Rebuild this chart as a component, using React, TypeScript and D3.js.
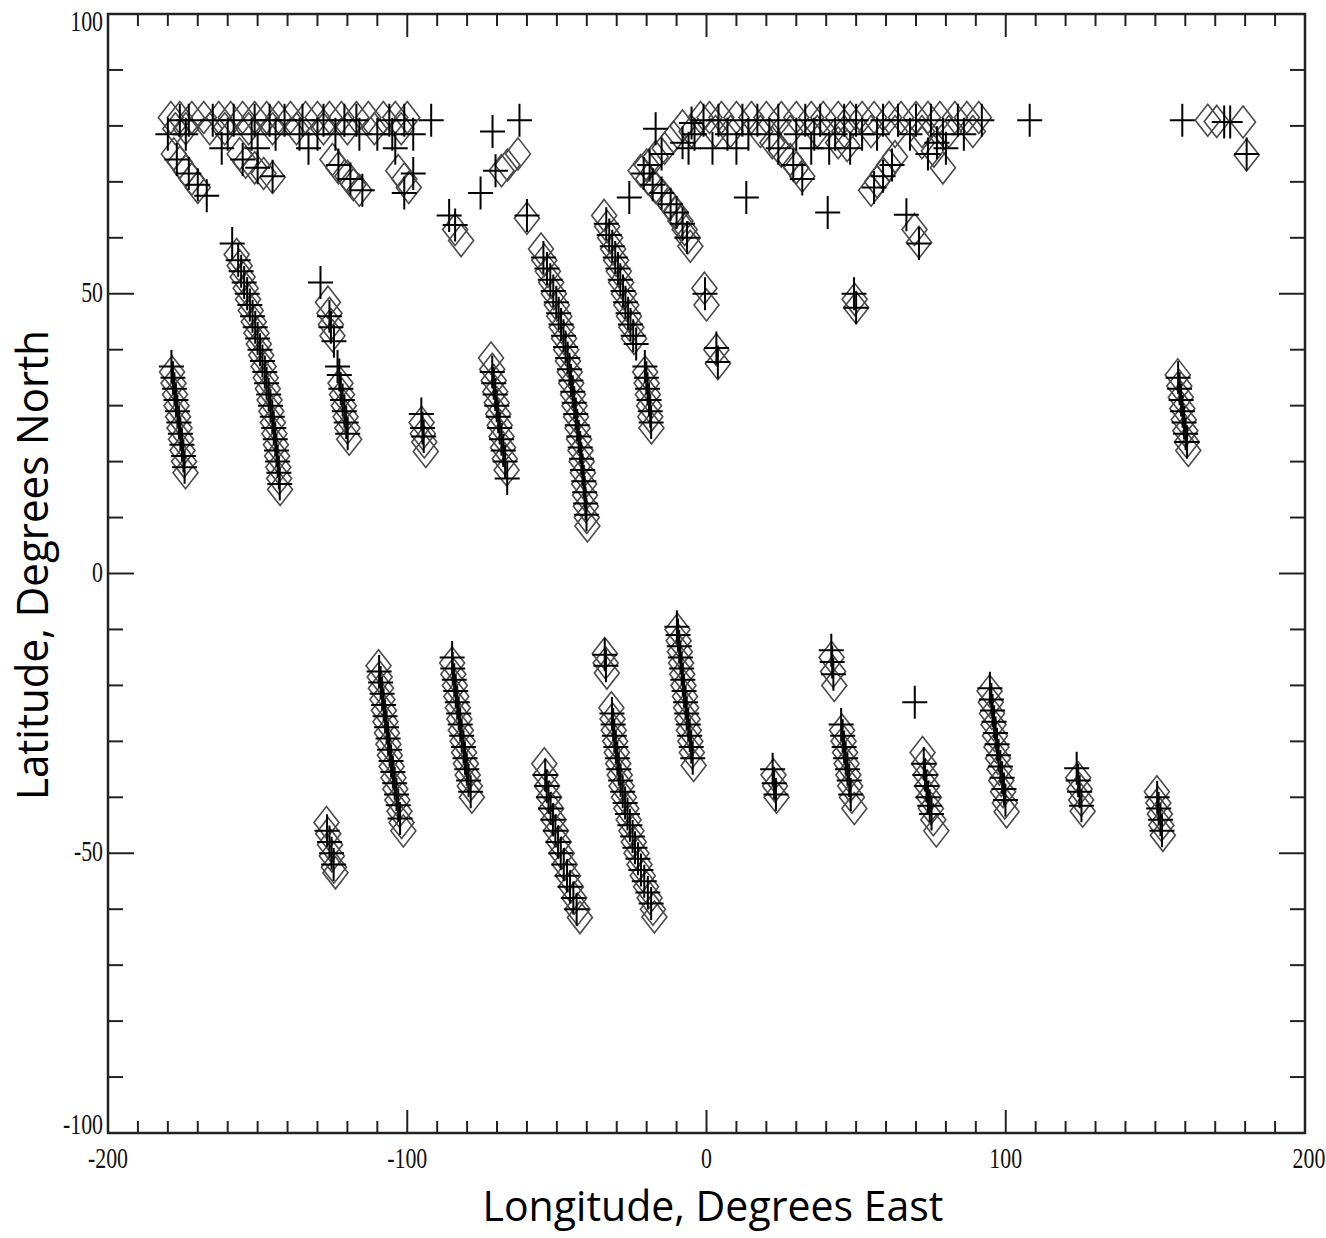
import React from "react";
import * as d3 from "d3";

type P = [number, number];

// ---- axis tick labels ----
const xTickLabels = [-200, -100, 0, 100, 200];
const yTickLabels = [-100, -50, 0, 50, 100];
const xTitle = "Longitude, Degrees East";
const yTitle = "Latitude, Degrees North";

// ---- diamonds (model track points) ----
const diamondsTopBandWest: P[] = [
  [-179, 81.5], [-176, 81.5], [-172, 81.5], [-168, 81.5], [-163, 81.5], [-159, 81.5], [-155, 81.5],
  [-151, 81.5], [-147, 81.5], [-143, 81.5], [-139, 81.5], [-134, 81.5], [-130, 81.5], [-126, 81.5],
  [-122, 81.5], [-117, 81.5], [-113, 81.5], [-108, 81.5], [-104, 81.5], [-100, 81.5],
  [-177.5, 79.5], [-174, 79.5], [-166, 79.5], [-161, 79.5], [-153, 79.5], [-145, 79.5], [-137, 79.5],
  [-128, 79.5], [-120, 79.5], [-111, 79.5], [-102, 79.5],
  [-178, 75], [-176, 73.5], [-174, 72], [-172, 70.5], [-170, 69],
  [-156, 75], [-154, 73.5], [-151, 72.5], [-148, 71.5], [-145, 70.8],
  [-125, 74], [-123, 72.5], [-120, 71], [-118, 69.5], [-116, 68.5],
  [-103, 72], [-101, 70.5], [-99.5, 69],
];
const diamondsTopBandEast: P[] = [
  [-2, 81.5], [1, 81.5], [5, 81.5], [10, 81.5], [15, 81.5], [20, 81.5], [25, 81.5], [30, 81.5],
  [35, 81.5], [39, 81.5], [44, 81.5], [48, 81.5], [52, 81.5], [56, 81.5], [61, 81.5], [65, 81.5],
  [70, 81.5], [74, 81.5], [78, 81.5], [83, 81.5], [87, 81.5], [91, 81.5],
  [-5, 79], [3, 79], [8, 79], [18, 79], [28, 79], [37, 79], [46, 79], [55, 79], [63, 79], [72, 79],
  [81, 79], [89, 79],
  [22, 77], [25, 75.5], [28, 74], [30, 72.5], [32, 71], [44, 77], [47, 76.5],
  [55, 68.5], [57, 70], [59, 71.5], [61, 73], [63, 74.5],
  [72, 77], [76, 75.5], [79, 72.5],
  [-20, 73], [-17, 74.5], [-14, 76], [-11, 78], [-8, 80],
  [-22, 72], [-19.5, 70.5], [-17, 69], [-14.5, 67.5], [-12.3, 66], [-10.3, 64.5], [-8.7, 63],
  [-7.3, 61.5], [-6.2, 60], [-5.4, 58.5],
  [167.5, 81], [170.5, 80.8], [179.3, 80.7], [180.5, 74.8],
];
const diamondsNorthTracks: P[] = [
  [-178.6, 36], [-178.1, 34], [-177.6, 32], [-177.1, 30], [-176.6, 28], [-176.1, 26], [-175.6, 24],
  [-175.1, 22], [-174.6, 20], [-174.1, 18],
  [-157, 57], [-156, 55], [-155, 53], [-154, 51], [-153.2, 49], [-152.3, 47], [-151.3, 45], [-150.4, 43],
  [-149.6, 41], [-148.8, 39], [-148, 37], [-147.3, 35], [-146.6, 33], [-146, 31], [-145.4, 29],
  [-144.9, 27], [-144.4, 25], [-143.9, 23], [-143.5, 21], [-143.1, 19], [-142.8, 17], [-142.5, 15],
  [-126.5, 48.5], [-126, 46.5], [-125.5, 44.5], [-125, 42.5],
  [-122.3, 34], [-121.8, 32], [-121.2, 30], [-120.6, 28], [-120, 26], [-119.4, 24],
  [-95.2, 27], [-94.8, 25], [-94.3, 23.5], [-93.8, 21.8],
  [-84, 61.5], [-82, 59.5], [-60, 63.5], [-63, 75], [-66.5, 73], [-68.5, 72],
  [-72, 38.5], [-71.6, 36.5], [-71.1, 34.5], [-70.6, 32.5], [-70.1, 30.5], [-69.6, 28.5], [-69.1, 26.5],
  [-68.5, 24.5], [-68, 22.5], [-67.4, 20.5], [-66.8, 18.5],
  [-55.3, 58], [-54.2, 56], [-53, 54], [-51.9, 52], [-51, 50], [-50, 48], [-49.2, 46], [-48.4, 44],
  [-47.6, 42], [-46.9, 40], [-46.3, 38], [-45.7, 36], [-45.2, 34], [-44.6, 32], [-44.1, 30], [-43.6, 28],
  [-43.1, 26], [-42.6, 24], [-42.1, 22], [-41.7, 20], [-41.3, 18], [-40.9, 16], [-40.6, 14], [-40.3, 12],
  [-40, 10], [-39.8, 8.5],
  [-34.2, 64], [-33.2, 62], [-32.2, 60], [-31.2, 58], [-30.2, 56], [-29.3, 54], [-28.5, 52], [-27.6, 50],
  [-26.8, 48], [-25.9, 46], [-25.1, 44], [-24.2, 42],
  [-20.5, 36], [-20, 34], [-19.6, 32], [-19.2, 30], [-18.8, 28], [-18.4, 26],
  [-0.7, 51], [0, 48], [3.3, 40], [3.8, 37.5], [49.5, 49], [50, 47.5], [69.5, 61.5], [71, 59.2],
  [157.5, 35.5], [158, 33.5], [158.5, 31.5], [159, 29.5], [159.5, 27.5], [160, 25.5], [160.5, 23.5], [161, 22],
];
const diamondsSouthTracks: P[] = [
  [-127, -44.5], [-126.4, -46.5], [-125.8, -48.5], [-125.2, -50.5], [-124.5, -52.5], [-124, -53.5],
  [-109.6, -16.5], [-109.2, -18.5], [-108.8, -20.5], [-108.3, -22.5], [-107.8, -24.5], [-107.3, -26.5],
  [-106.8, -28.5], [-106.3, -30.5], [-105.8, -32.5], [-105.2, -34.5], [-104.6, -36.5], [-104, -38.5],
  [-103.3, -40.5], [-102.6, -42.5], [-101.9, -44.5], [-101.3, -46],
  [-85, -16], [-84.6, -18], [-84.1, -20], [-83.6, -22], [-83.1, -24], [-82.6, -26], [-82.1, -28],
  [-81.5, -30], [-81, -32], [-80.4, -34], [-79.8, -36], [-79.1, -38], [-78.4, -40],
  [-54.2, -34], [-53.8, -36], [-53.3, -38], [-52.6, -40], [-51.9, -42], [-51.1, -44], [-50.3, -46],
  [-49.4, -48], [-48.4, -50], [-47.4, -52], [-46.3, -54], [-45.3, -56], [-44.2, -58], [-43.1, -60], [-42.3, -61.5],
  [-31.8, -24], [-31.4, -26], [-31, -28], [-30.5, -30], [-30, -32], [-29.5, -34], [-29, -36], [-28.4, -38],
  [-27.6, -40], [-26.8, -42], [-26, -44], [-25.1, -46], [-24.3, -48], [-23.4, -50], [-22.4, -52],
  [-21.3, -54], [-20.2, -56], [-19, -58], [-17.9, -60], [-17.4, -61.4],
  [-34, -14.3], [-33.7, -16], [-33.3, -17.8],
  [-9.7, -10], [-9.3, -12], [-8.9, -14], [-8.5, -16], [-8.1, -18], [-7.7, -20], [-7.2, -22], [-6.8, -24],
  [-6.3, -26], [-5.9, -28], [-5.4, -30], [-4.9, -32], [-4.3, -34.3],
  [22.4, -36], [22.9, -38], [23.4, -40],
  [41.8, -15], [42.3, -17.5], [42.7, -20],
  [45.3, -28], [45.8, -30], [46.3, -32], [46.8, -34], [47.4, -36], [48, -38], [48.6, -40], [49.4, -42],
  [72.2, -32], [72.7, -34], [73.2, -36], [73.7, -38], [74.3, -40], [75, -42], [75.8, -44], [76.8, -46],
  [94.6, -21], [95, -23], [95.4, -25], [95.9, -27], [96.4, -29], [96.9, -31], [97.4, -33], [97.9, -35],
  [98.5, -37], [99.1, -39], [99.7, -41], [100.3, -42.6],
  [124.2, -36.5], [124.7, -38.5], [125.2, -40.5], [125.7, -42.5],
  [150.5, -39], [151, -41], [151.5, -43], [152, -45], [152.5, -46.8],
];

// ---- pluses (observed track points) ----
const plusesTopBand: P[] = [
  [-176, 81], [-173, 81], [-165, 81], [-158, 81], [-151, 81], [-146, 81], [-141, 81], [-135, 81],
  [-128, 81], [-121, 81], [-117, 81], [-106, 81], [-101, 81], [-92, 81],
  [-180, 78.5], [-174, 78.5], [-160, 78.5], [-152, 78.5], [-144, 78.5], [-136, 78.5], [-130, 78.5],
  [-124, 78.5], [-116, 78.5], [-110, 78.5], [-105, 78.5], [-98, 78.5],
  [-162, 76], [-150, 76], [-133, 76], [-104, 76],
  [-177, 74], [-173, 71.5], [-170, 69.5], [-167, 67.5],
  [-155, 74], [-150, 72.5], [-145, 71],
  [-123, 73], [-119, 70.5], [-115, 68.5],
  [-101, 68], [-98, 71.5],
  [-1, 81], [4, 81], [12, 81], [17, 81], [24, 81], [33, 81], [38, 81], [46, 81], [50, 81], [59, 81],
  [64, 81], [70, 81], [75, 81], [84, 81], [92, 81],
  [-4, 78.5], [7, 78.5], [14, 78.5], [21, 78.5], [30, 78.5], [36, 78.5], [43, 78.5], [52, 78.5],
  [57, 78.5], [68, 78.5], [79, 78.5], [86, 78.5],
  [-6, 76], [2, 76], [10, 76], [35, 76], [41, 76], [48, 76],
  [24, 76], [29, 73], [32, 70.5], [56, 69], [59, 71], [62, 73], [74, 75], [77, 77], [80, 76],
  [-19, 73], [-15, 75], [-8, 77], [-5, 80.5], [-17, 79.5],
  [-21, 71.5], [-18, 69.5], [-15, 68], [-12, 66], [-10, 64.5], [-8, 62.5], [-6.5, 60],
  [108, 81], [159, 81], [173, 80.7], [175, 80.7], [180.5, 75],
];
const plusesNorthTracks: P[] = [
  [-178.8, 37], [-178.3, 35], [-177.8, 33], [-177.3, 31], [-176.8, 29], [-176.3, 27], [-175.8, 25],
  [-175.3, 23], [-174.8, 21], [-174.4, 19],
  [-158.5, 59], [-156.5, 56], [-155.5, 54], [-154.5, 52], [-153.5, 50], [-152.6, 48], [-151.7, 46],
  [-150.8, 44], [-150, 42], [-149.2, 40], [-148.4, 38], [-147.6, 36], [-147, 34], [-146.3, 32],
  [-145.7, 30], [-145.1, 28], [-144.6, 26], [-144.1, 24], [-143.7, 22], [-143.3, 20], [-142.9, 18], [-142.6, 16],
  [-129, 52], [-126, 46], [-125.5, 44], [-124.5, 41.5],
  [-123.3, 37], [-122.7, 35.5], [-122.2, 33], [-121.6, 31], [-121, 29], [-120.4, 27], [-119.9, 25],
  [-95.3, 28.5], [-94.9, 26], [-94.5, 24.5],
  [-86, 64], [-84, 62.3], [-60, 64], [-62.5, 81], [-71.5, 79], [-70.5, 72], [-75.5, 68],
  [-71.6, 36], [-71.1, 34], [-70.6, 32], [-70.1, 30], [-69.6, 28], [-69.1, 26], [-68.5, 24],
  [-67.9, 22], [-67.3, 20], [-66.6, 17],
  [-54.5, 56.5], [-53.3, 54.5], [-52.2, 52.5], [-51.2, 50.5], [-50.2, 48.5], [-49.4, 46.5], [-48.6, 44.5],
  [-47.8, 42.5], [-47.1, 40.5], [-46.4, 38.5], [-45.8, 36.5], [-45.3, 34.5], [-44.7, 32.5], [-44.2, 30.5],
  [-43.7, 28.5], [-43.2, 26.5], [-42.7, 24.5], [-42.2, 22.5], [-41.8, 20.5], [-41.4, 18.5], [-41, 16.5],
  [-40.7, 14.5], [-40.4, 12.5], [-40.1, 10.5],
  [-33.5, 62.5], [-32.5, 60.5], [-31.5, 58.5], [-30.5, 56.5], [-29.6, 54.5], [-28.8, 52.5], [-27.9, 50.5],
  [-27.1, 48.5], [-26.2, 46.5], [-25.4, 44.5], [-24.5, 42.5], [-23.5, 41],
  [-20.6, 37], [-20.1, 35], [-19.7, 33], [-19.2, 31], [-18.8, 29], [-18.5, 27],
  [-25.8, 67.2], [13.3, 67.2], [40.5, 64.5], [66.8, 64.1], [71, 59],
  [-0.5, 50], [3.3, 40.3], [3.8, 37.8], [49.3, 50], [50, 47.5],
  [157.6, 35], [158.1, 33], [158.6, 31], [159.1, 29], [159.6, 27], [160.1, 25], [160.6, 23.5],
];
const plusesSouthTracks: P[] = [
  [-126.8, -46], [-126, -48], [-125.3, -50], [-124.6, -52],
  [-109.4, -17.5], [-108.9, -19.5], [-108.4, -21.5], [-107.9, -23.5], [-107.4, -25.5], [-106.9, -27.5],
  [-106.4, -29.5], [-105.9, -31.5], [-105.4, -33.5], [-104.8, -35.5], [-104.2, -37.5], [-103.6, -39.5],
  [-103, -41.4], [-102.4, -43.8],
  [-85, -15], [-84.8, -17], [-84.3, -19], [-83.8, -21], [-83.3, -23], [-82.8, -25], [-82.3, -27],
  [-81.8, -29], [-81.2, -31], [-80.7, -33], [-80.1, -35], [-79.5, -37], [-78.8, -39],
  [-53.9, -36], [-53.4, -38], [-52.8, -40], [-52.1, -42], [-51.3, -44], [-50.5, -46], [-49.6, -48],
  [-48.7, -50], [-47.7, -52], [-46.6, -54], [-45.6, -56], [-44.5, -58], [-43.4, -60],
  [-31.6, -25], [-31.2, -27], [-30.8, -29], [-30.3, -31], [-29.8, -33], [-29.3, -35], [-28.7, -37],
  [-28, -39], [-27.2, -41], [-26.4, -43], [-25.6, -45], [-24.7, -47], [-23.9, -49], [-22.9, -51],
  [-21.9, -53], [-20.8, -55], [-19.6, -57], [-18.5, -59],
  [-34, -14.5], [-33.6, -16.5],
  [-9.9, -9.5], [-9.5, -11], [-9.1, -13], [-8.7, -15], [-8.3, -17], [-7.9, -19], [-7.5, -21], [-7, -23],
  [-6.6, -25], [-6.1, -27], [-5.6, -29], [-5.1, -31], [-4.6, -33],
  [22.1, -35], [22.6, -37.5], [23.2, -39.5],
  [41.7, -13.7], [42, -15.8], [42.4, -18],
  [45, -27], [45.5, -29], [46, -31], [46.5, -33], [47.1, -35], [47.7, -37], [48.2, -39.5],
  [69.6, -23],
  [72.6, -34], [73, -36], [73.5, -38], [74, -40], [74.6, -41.5], [75.2, -43],
  [94.7, -20.5], [95.2, -22.5], [95.6, -24.5], [96.1, -26.5], [96.6, -28.5], [97.1, -30.5], [97.6, -32.5],
  [98.2, -34.5], [98.8, -36.5], [99.4, -38.5], [99.9, -40.5],
  [123.7, -34.8], [124.2, -37], [124.7, -39], [125.3, -41.5],
  [150.6, -40], [151.1, -42], [151.7, -44], [152.2, -46],
];

export default function App() {
  const W = 1326;
  const H = 1238;
  const x = d3.scaleLinear().domain([-200, 200]).range([108, 1305]);
  const y = d3.scaleLinear().domain([-100, 100]).range([1133, 14]);
  const [x0, x1] = x.range();
  const [y0, y1] = [y(100), y(-100)];

  const diamonds: P[] = [
    ...diamondsTopBandWest,
    ...diamondsTopBandEast,
    ...diamondsNorthTracks,
    ...diamondsSouthTracks,
  ];
  const pluses: P[] = [...plusesTopBand, ...plusesNorthTracks, ...plusesSouthTracks];

  const dw = 12.5;
  const dh = 16;
  const pw = 12.5;
  const ph = 16.5;
  const diamondPath = (cx: number, cy: number) =>
    `M${cx},${cy - dh}L${cx + dw},${cy}L${cx},${cy + dh}L${cx - dw},${cy}Z`;
  const plusPath = (cx: number, cy: number) =>
    `M${cx - pw},${cy}H${cx + pw}M${cx},${cy - ph}V${cy + ph}`;

  const xMinor = d3.range(-190, 200, 10);
  const yMinor = d3.range(-90, 100, 10);
  const minorLen = 12;
  const majorLenX = 23;
  const majorLenY = 26;

  const tickFont = "'Liberation Serif', 'DejaVu Serif', serif";
  const titleFont = "'Open Sans', 'Noto Sans', sans-serif";

  return (
    <svg
      width={W}
      height={H}
      viewBox={`0 0 ${W} ${H}`}
      style={{ position: "absolute", left: 0, top: 0, background: "#fff" }}
    >
      <rect x={0} y={0} width={W} height={H} fill="#fff" />
      <defs>
        <clipPath id="plotclip">
          <rect x={x0} y={y0} width={x1 - x0} height={y1 - y0} />
        </clipPath>
      </defs>
      <g clipPath="url(#plotclip)">
        <g fill="none" stroke="#4a4a4a" strokeWidth={1.6}>
          {diamonds.map((d, i) => (
            <path key={"d" + i} d={diamondPath(x(d[0]), y(d[1]))} />
          ))}
        </g>
        <g fill="none" stroke="#000" strokeWidth={2}>
          {pluses.map((d, i) => (
            <path key={"p" + i} d={plusPath(x(d[0]), y(d[1]))} />
          ))}
        </g>
      </g>

      {/* ticks */}
      <g stroke="#222" strokeWidth={2}>
        {xMinor.map((v) => {
          const len = v % 100 === 0 ? majorLenX : minorLen;
          return (
            <g key={"xt" + v}>
              <line x1={x(v)} x2={x(v)} y1={y1} y2={y1 - len} />
              <line x1={x(v)} x2={x(v)} y1={y0} y2={y0 + len} />
            </g>
          );
        })}
        {yMinor.map((v) => {
          const len = v % 50 === 0 ? majorLenY : minorLen + 3;
          return (
            <g key={"yt" + v}>
              <line x1={x0} x2={x0 + len} y1={y(v)} y2={y(v)} />
              <line x1={x1} x2={x1 - len} y1={y(v)} y2={y(v)} />
            </g>
          );
        })}
      </g>

      {/* frame */}
      <rect x={x0} y={y0} width={x1 - x0} height={y1 - y0} fill="none" stroke="#222" strokeWidth={2.5} />

      {/* tick labels */}
      <g fill="#111" fontFamily={tickFont} fontSize={23}>
        {xTickLabels.map((v) => (
          <text
            key={"xl" + v}
            transform={`translate(${x(v) + (v === 200 ? 4 : 0)},${1168}) scale(0.95,1.32)`}
            textAnchor="middle"
          >
            {v}
          </text>
        ))}
        {yTickLabels.map((v) => {
          const cy = Math.min(Math.max(y(v), y0 + 9), y1 - 7);
          return (
            <text
              key={"yl" + v}
              transform={`translate(${103},${cy + 8}) scale(0.95,1.32)`}
              textAnchor="end"
            >
              {v}
            </text>
          );
        })}
      </g>

      {/* axis titles */}
      <text
        x={713}
        y={1221}
        textAnchor="middle"
        fontFamily={titleFont}
        fontSize={42}
        textLength={461}
        lengthAdjust="spacingAndGlyphs"
        fill="#000"
      >
        {xTitle}
      </text>
      <text
        transform={`translate(48,565) rotate(-90)`}
        textAnchor="middle"
        fontFamily={titleFont}
        fontSize={44}
        textLength={470}
        lengthAdjust="spacingAndGlyphs"
        fill="#000"
      >
        {yTitle}
      </text>
    </svg>
  );
}
